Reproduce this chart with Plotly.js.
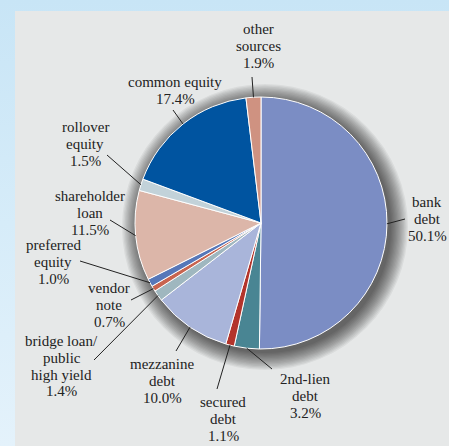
<!DOCTYPE html>
<html>
<head>
<meta charset="utf-8">
<script src="https://cdn.plot.ly/plotly-3.0.1.min.js"></script>
<style>
  html, body { margin: 0; padding: 0; }
  body { width: 449px; height: 446px; background: linear-gradient(to bottom, #c8e5f6 0%, #d6ecf9 50%, #e4f2fb 100%); overflow: hidden; }
  #chart { width: 449px; height: 446px; }
</style>
</head>
<body>
<div id="chart"></div>
<script>
// ---- data ----
const categories = ["bank debt", "2nd-lien debt", "secured debt", "mezzanine debt",
  "bridge loan/ public high yield", "vendor note", "preferred equity",
  "shareholder loan", "rollover equity", "common equity", "other sources"];
const labelLines = [["bank", "debt"], ["2nd-lien", "debt"], ["secured", "debt"], ["mezzanine", "debt"],
  ["bridge loan/", "public", "high yield"], ["vendor", "note"], ["preferred", "equity"],
  ["shareholder", "loan"], ["rollover", "equity"], ["common equity"], ["other", "sources"]];
const values = [50.1, 3.2, 1.1, 10.0, 1.4, 0.7, 1.0, 11.5, 1.5, 17.4, 1.9];
const colors = ["#7b8dc4", "#498593", "#b3342b", "#a9b5da", "#9fb7bf", "#c8644f",
  "#5677b9", "#dcb6a9", "#c2d2d9", "#0054a0", "#cf9281"];

// ---- layout helpers (pixel geometry) ----
const W = 449, H = 446;
const cx = 261, cy = 223, R = 126;
const px = x => x / W;
const py = y => 1 - y / H;

// label block positions: [center x, first line center y]
const labelPos = [[427, 202], [305, 379], [223, 402], [162, 364], [62, 341], [109, 288],
  [53, 245], [90, 196], [85, 127], [175, 82], [258, 29]];
// leader line end on the label side
const leaderEnd = [[405, 219], [272, 369], [217, 389], [176, 351], [94, 360], [131, 300],
  [80, 261], [110, 220], [107, 155], [173, 110], [252, 77]];
const lineStep = 16.8;

const total = values.reduce((a, b) => a + b, 0);
const annotations = [];
const shapes = [
  { type: "rect", xref: "paper", yref: "paper", x0: px(15), x1: 1.01, y0: -0.01, y1: py(11),
    fillcolor: "#e6e8e8", line: { width: 0 }, layer: "below" }
];

// soft drop shadow behind the pie: stacked translucent discs
const shadowSteps = 14;
for (let k = 0; k < shadowSteps; k++) {
  const rr = R + 17 - k * 1.3;
  const sx = cx + 4, sy = cy + 4;
  shapes.push({ type: "circle", xref: "paper", yref: "paper",
    x0: px(sx - rr), x1: px(sx + rr), y0: py(sy + rr), y1: py(sy - rr),
    fillcolor: "rgba(0,0,0,0.055)", line: { width: 0 }, layer: "below" });
}

let cum = 0;
values.forEach((v, i) => {
  const mid = (cum + v / 2) / total;
  cum += v;
  const ang = mid * 2 * Math.PI; // clockwise from 12 o'clock
  const ex = cx + R * Math.sin(ang);
  const ey = cy - R * Math.cos(ang);
  shapes.push({ type: "line", xref: "paper", yref: "paper",
    x0: px(ex), y0: py(ey), x1: px(leaderEnd[i][0]), y1: py(leaderEnd[i][1]),
    line: { color: "#222222", width: 1 }, layer: "above" });
  const lines = labelLines[i].concat([v.toFixed(1) + "%"]);
  lines.forEach((t, k) => {
    annotations.push({ xref: "paper", yref: "paper", x: px(labelPos[i][0]),
      y: py(labelPos[i][1] + k * lineStep), text: t, showarrow: false,
      xanchor: "center", yanchor: "middle",
      font: { family: "Liberation Serif, Times New Roman, serif", size: 15, color: "#222222" } });
  });
});

const data = [{
  type: "pie",
  labels: categories,
  values: values,
  sort: false,
  direction: "clockwise",
  rotation: 0,
  textinfo: "none",
  hoverinfo: "label+percent",
  marker: { colors: colors, line: { color: "#ffffff", width: 1 } },
  domain: { x: [px(cx - R), px(cx + R)], y: [py(cy + R), py(cy - R)] },
  showlegend: false
}];

const layout = {
  width: W, height: H,
  margin: { l: 0, r: 0, t: 0, b: 0 },
  paper_bgcolor: "rgba(0,0,0,0)",
  plot_bgcolor: "rgba(0,0,0,0)",
  showlegend: false,
  shapes: shapes,
  annotations: annotations
};

Plotly.newPlot("chart", data, layout, { displayModeBar: false, staticPlot: true });
</script>
</body>
</html>
